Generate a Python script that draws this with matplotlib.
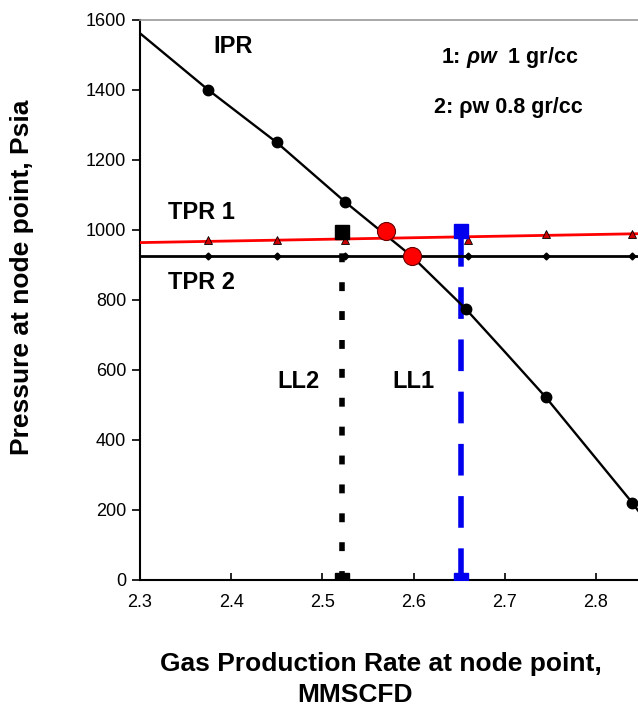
import numpy as np
import matplotlib.pyplot as plt

plt.rcParams['font.family'] = ['Liberation Sans', 'DejaVu Sans']
plt.rcParams['mathtext.fontset'] = 'custom'
plt.rcParams['mathtext.it'] = 'Liberation Sans:italic:bold'
plt.rcParams['mathtext.rm'] = 'Liberation Sans:bold'

# IPR curve (inflow performance)
ipr_x = [2.30, 2.375, 2.45, 2.525, 2.598, 2.657, 2.70, 2.745, 2.84, 2.86]
ipr_y = [1562, 1400, 1250, 1080, 925, 775, 652, 522, 220, 150]
ipr_pts_x = [2.375, 2.45, 2.525, 2.657, 2.745, 2.84]
ipr_pts_y = [1400, 1250, 1080, 775, 522, 220]

# TPR 1 (rho_w = 1 gr/cc)
tpr1_line_x = [2.30, 2.86]
tpr1_line_y = [964, 990]
tpr1_pts_x = [2.375, 2.45, 2.525, 2.66, 2.745, 2.84]
tpr1_pts_y = [970, 970, 972, 972, 988, 988]

# TPR 2 (rho_w = 0.8 gr/cc)
tpr2_x = [2.30, 2.375, 2.45, 2.525, 2.66, 2.745, 2.84, 2.86]
tpr2_y = [927, 927, 927, 927, 927, 927, 927, 927]
tpr2_pts_x = [2.375, 2.45, 2.525, 2.66, 2.745, 2.84]
tpr2_pts_y = [927, 927, 927, 927, 927, 927]

# operating points
op_x = [2.570, 2.598]
op_y = [997, 925]

# limit lines
ll2_x = [2.521, 2.521]
ll2_y = [0, 995]
ll1_x = [2.652, 2.652]
ll1_y = [0, 997]

fig = plt.figure(figsize=(6.38, 7.08), dpi=100)
ax = fig.add_axes([140 / 638, 128 / 708, 501.6 / 638, 560 / 708])

ax.plot(ipr_x, ipr_y, color='black', lw=1.7, zorder=3)
ax.plot(ipr_pts_x, ipr_pts_y, 'o', color='black', ms=7.5, zorder=4)

ax.plot(tpr1_line_x, tpr1_line_y, color='red', lw=2.0, zorder=3)
ax.plot(tpr1_pts_x, tpr1_pts_y, '^', color='#cc0000', mec='black', mew=0.6, ms=6, zorder=4)

ax.plot(tpr2_x, tpr2_y, color='black', lw=2.0, zorder=3)
ax.plot(tpr2_pts_x, tpr2_pts_y, 'D', color='black', ms=3.5, zorder=4)

ax.plot(ll2_x, ll2_y, color='black', lw=4, ls=(0, (1.6, 3.6)), zorder=2)
ax.plot(ll2_x, ll2_y, 's', color='black', ms=10, zorder=4)
ax.plot(ll1_x, ll1_y, color='#0000ee', lw=4, ls=(0, (5.7, 3.7)), zorder=2)
ax.plot(ll1_x, ll1_y, 's', color='#0000ee', ms=10, zorder=4)

ax.plot(op_x, op_y, 'o', color='red', mec='#660000', mew=0.8, ms=13, zorder=5)

ax.set_xlim(2.3, 2.85)
ax.set_ylim(0, 1600)
ax.set_xticks([2.3, 2.4, 2.5, 2.6, 2.7, 2.8])
ax.set_xticklabels(['2.3', '2.4', '2.5', '2.6', '2.7', '2.8'])
ax.set_yticks(np.arange(0, 1601, 200))
ax.tick_params(axis='y', direction='out', length=6, width=1.2, labelsize=13, pad=4)
ax.tick_params(axis='x', direction='in', length=5, width=1.2, labelsize=13, pad=10)

ax.spines['right'].set_visible(False)
ax.spines['top'].set_color('#999999')
ax.spines['top'].set_linewidth(1.2)
ax.spines['left'].set_linewidth(1.5)
ax.spines['bottom'].set_linewidth(1.5)

lab = dict(fontsize=17, fontweight='bold', ha='center', va='center')
ax.text(2.402, 1523, 'IPR', **lab)
ax.text(2.367, 1049, 'TPR 1', **lab)
ax.text(2.367, 851, 'TPR 2', **lab)
ax.text(2.474, 566, 'LL2', **lab)
ax.text(2.60, 566, 'LL1', **lab)
ax.text(2.630, 1494, r'1: $\rho w$  1 gr/cc', fontsize=15.5, fontweight='bold', ha='left', va='center')
ax.text(2.622, 1351, '2: ρw 0.8 gr/cc', fontsize=15.5, fontweight='bold', ha='left', va='center')

fig.text(22 / 638, 1 - 277 / 708, 'Pressure at node point, Psia', rotation=90,
         fontsize=19, fontweight='bold', ha='center', va='center')
fig.text(381 / 638, 1 - 664 / 708, 'Gas Production Rate at node point,',
         fontsize=19, fontweight='bold', ha='center', va='center')
fig.text(355 / 638, 1 - 695 / 708, 'MMSCFD',
         fontsize=19, fontweight='bold', ha='center', va='center')

fig.savefig('out.png', dpi=100)
